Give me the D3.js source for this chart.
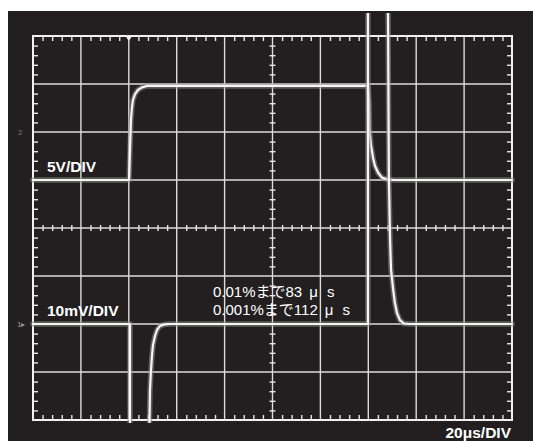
<!DOCTYPE html>
<html>
<head>
<meta charset="utf-8">
<script src="https://cdn.jsdelivr.net/npm/d3@7"></script>
<style>
  html, body { margin: 0; padding: 0; background: #ffffff; }
  svg { display: block; }
</style>
</head>
<body>
<script>
// Time base: 10 divisions at 20 µs/div
const timeDomain = [0, 200];
// Vertical screen range in divisions (8 divisions, centre = 0)
const divDomain = [-4, 4];

// Channel 2 (5V/DIV): time in µs, vertical position in divisions
const ch2Time = [0, 40.1, 40.5, 40.9, 41.3, 41.75, 42.6, 43.8, 45.5, 47.6, 139.9, 140.3, 140.5, 141.1, 142.0, 142.8, 144.1, 145.7, 148.2, 151.1, 200];
const ch2Div  = [1.0, 1.0, 1.62, 2.25, 2.5, 2.67, 2.79, 2.875, 2.93, 2.96, 2.96, 2.67, 2.04, 1.73, 1.46, 1.29, 1.15, 1.05, 1.01, 1.0, 1.0];

// Channel 1 (10mV/DIV), settling error; segments leave the screen at the edges
const ch1Time = [0, 40.5, 40.5, 48.4, 48.64, 48.85, 49.27, 49.69, 50.1, 50.94, 51.77, 53.03, 55.11, 57.2, 139.85, 139.85, 148.2, 148.6, 149.1, 149.5, 150.4, 151.1, 151.97, 153.2, 154.9, 157.4, 200];
const ch1Div  = [-2.0, -2.0, -4.6, -4.6, -4.0, -3.375, -2.96, -2.65, -2.44, -2.25, -2.125, -2.04, -2.006, -2.0, -2.0, 4.8, 4.8, 1.0, -0.25, -0.875, -1.29, -1.56, -1.77, -1.92, -1.99, -2.0, -2.0];

// Labels
const ch2Label = "5V/DIV";
const ch1Label = "10mV/DIV";
const timeLabel = "20μs/DIV";
const noteLines = [
  ["0.01%まで83", "μ", "s"],
  ["0.001%まで112", "μ", "s"]
];

const W = 533, H = 441;
const svg = d3.select("body").append("svg").attr("width", W).attr("height", H);

// Screen background
svg.append("rect").attr("x", 8).attr("y", 11).attr("width", W - 8).attr("height", H - 11).attr("fill", "#231f20");

const x = d3.scaleLinear().domain(timeDomain).range([33, 512]);
const y = d3.scaleLinear().domain(divDomain).range([420, 36]);

const majorX = d3.range(timeDomain[0], timeDomain[1] + 1, 20);
const majorY = d3.range(divDomain[0], divDomain[1] + 1, 1);
const minorX = d3.range(0, 201, 4).filter(v => v % 20 !== 0);
const minorY = d3.range(-20, 21).map(v => v / 5).filter(v => Math.abs(v * 5) % 5 !== 0);

const grid = svg.append("g");
// Inner graticule lines
grid.selectAll("line.vx").data(majorX.slice(1, -1)).join("line")
  .attr("x1", d => x(d)).attr("x2", d => x(d)).attr("y1", y(4)).attr("y2", y(-4))
  .attr("stroke", "#dcdcdc").attr("stroke-width", 1.4);
grid.selectAll("line.hy").data(majorY.slice(1, -1)).join("line")
  .attr("y1", d => y(d)).attr("y2", d => y(d)).attr("x1", x(0)).attr("x2", x(200))
  .attr("stroke", "#dcdcdc").attr("stroke-width", 1.4);

// Minor tick marks via axes
function tickAxis(axis, transform, size) {
  const g = svg.append("g").attr("transform", transform).call(axis.tickSize(size).tickFormat(""));
  g.select(".domain").remove();
  g.selectAll(".tick line").attr("stroke", "#e6e6e6").attr("stroke-width", 1.4);
  return g;
}
tickAxis(d3.axisBottom(x).tickValues(minorX), `translate(0,${y(4)})`, 5);
tickAxis(d3.axisTop(x).tickValues(minorX), `translate(0,${y(-4)})`, 5);
tickAxis(d3.axisRight(y).tickValues(minorY), `translate(${x(0)},0)`, 5);
tickAxis(d3.axisLeft(y).tickValues(minorY), `translate(${x(200)},0)`, 5);
// Centre axes: ticks cross the line
tickAxis(d3.axisBottom(x).tickValues(minorX), `translate(0,${y(0) - 3})`, 6);
tickAxis(d3.axisRight(y).tickValues(minorY), `translate(${x(100) - 3},0)`, 6);

// Border
svg.append("rect").attr("x", x(0)).attr("y", y(4)).attr("width", x(200) - x(0)).attr("height", y(-4) - y(4))
  .attr("fill", "none").attr("stroke", "#f2f2f2").attr("stroke-width", 2);

// Traces
svg.append("defs").append("clipPath").attr("id", "scr")
  .append("rect").attr("x", 8).attr("y", 13).attr("width", W - 8).attr("height", 410);

const line = d3.line().x(d => x(d[0])).y(d => y(d[1]));
const traces = svg.append("g").attr("clip-path", "url(#scr)");
function drawTrace(ts, vs) {
  const pts = ts.map((t, i) => [t, vs[i]]);
  traces.append("path").attr("d", line(pts)).attr("fill", "none")
    .attr("stroke", "#8f8d8d").attr("stroke-opacity", 0.55).attr("stroke-width", 5.5)
    .attr("stroke-linejoin", "round").attr("stroke-linecap", "round");
  traces.append("path").attr("d", line(pts)).attr("fill", "none")
    .attr("stroke", "#f5f5f5").attr("stroke-width", 2.2)
    .attr("stroke-linejoin", "round").attr("stroke-linecap", "round");
}
drawTrace(ch2Time, ch2Div);
drawTrace(ch1Time, ch1Div);

// Trigger marker at top
svg.append("path")
  .attr("d", `M${x(40) - 4},${y(4) - 1} L${x(40) + 4},${y(4) - 1} L${x(40)},${y(4) + 5} Z`)
  .attr("fill", "#f0f0f0");

// Channel ground markers on the left
svg.append("text").attr("x", 18).attr("y", y(2) + 3).attr("font-family", "Liberation Sans, Arial, sans-serif")
  .attr("font-size", 8).attr("fill", "#777").text("2");
svg.append("text").attr("x", 17).attr("y", y(-2) + 3).attr("font-family", "Liberation Sans, Arial, sans-serif")
  .attr("font-size", 8).attr("fill", "#999").text("1▸");

// Labels
const bold = { "font-family": "Liberation Sans, Arial, sans-serif", "font-weight": "bold", "font-size": 15.5, "fill": "#ffffff" };
function label(txt, px, py, anchor) {
  const t = svg.append("text").attr("x", px).attr("y", py).attr("text-anchor", anchor || "start").text(txt);
  Object.entries(bold).forEach(([k, v]) => t.attr(k, v));
}
label(ch2Label, 47, 172);
label(ch1Label, 47, 316);
label(timeLabel, 511, 438, "end");

const note = svg.append("g").attr("font-family", "Liberation Sans, 'Noto Sans CJK JP', sans-serif")
  .attr("font-size", 15).attr("fill", "#ffffff");
noteLines.forEach((parts, i) => {
  const t = note.append("text").attr("x", 213).attr("y", 297 + i * 18);
  t.append("tspan").text(parts[0]);
  t.append("tspan").attr("dx", 7).text(parts[1]);
  t.append("tspan").attr("dx", 9).text(parts[2]);
});
</script>
</body>
</html>
